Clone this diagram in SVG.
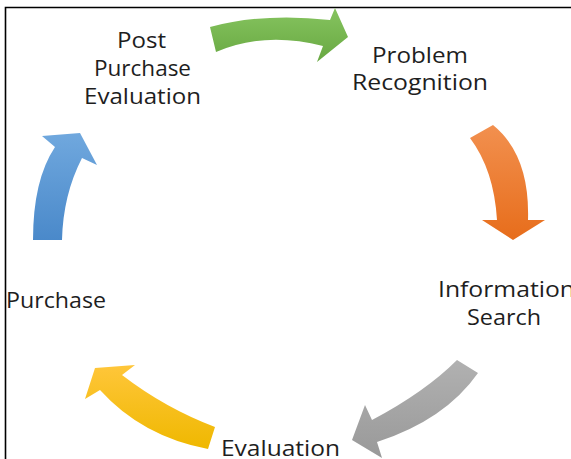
<svg xmlns="http://www.w3.org/2000/svg" width="571" height="459" viewBox="0 0 571 459">
  <defs>
    <style>
      .lbl { font-family: "Open Sans", "Liberation Sans", sans-serif; font-size: 22px; fill: #1e1e1e; }
      .frame { stroke: #000; stroke-width: 1.6; fill: none; }
    </style>
    <linearGradient id="gGreen" x1="0" y1="0" x2="0" y2="1">
      <stop offset="0" stop-color="#86c45f"/>
      <stop offset="1" stop-color="#68a842"/>
    </linearGradient>
    <linearGradient id="gOrange" x1="0" y1="0" x2="0" y2="1">
      <stop offset="0" stop-color="#f2904f"/>
      <stop offset="1" stop-color="#e76d1b"/>
    </linearGradient>
    <linearGradient id="gGray" x1="0" y1="0" x2="0" y2="1">
      <stop offset="0" stop-color="#b1b1b1"/>
      <stop offset="1" stop-color="#999999"/>
    </linearGradient>
    <linearGradient id="gYellow" x1="0" y1="0" x2="0" y2="1">
      <stop offset="0" stop-color="#ffc63a"/>
      <stop offset="1" stop-color="#efb800"/>
    </linearGradient>
    <linearGradient id="gBlue" x1="0" y1="0" x2="0" y2="1">
      <stop offset="0" stop-color="#70a8de"/>
      <stop offset="1" stop-color="#4a89ca"/>
    </linearGradient>
  </defs>

  <rect width="571" height="459" fill="#ffffff"/>

  <!-- frame: top and left edges -->
  <path class="frame" d="M5.5,459 L5.5,7.5 L571,7.5"/>

  <!-- curved cycle arrows -->
  <g id="connectors">
    <path id="arrow-green" fill="url(#gGreen)" d="M210,27 Q264,12.5 330,20 L335,8 L348,37 L317,62 L323,46 Q264.5,31 216,52 Z"/>
    <path id="arrow-orange" fill="url(#gOrange)" d="M470,138 L493,125 Q530,155 528,220 L545,220 L513,240 L482,220 L497,220 Q494,170 470,138 Z"/>
    <path id="arrow-gray" fill="url(#gGray)" d="M457,360 L478,373 Q445,420 377,442 L382,458 L352,440 L365,405 L372,420 Q425,392 457,360 Z"/>
    <path id="arrow-yellow" fill="url(#gYellow)" d="M215,427 Q165,408 122,375 L135,365 L95,368 L85,399 L100,390 Q142,436.5 208,449 Z"/>
    <path id="arrow-blue" fill="url(#gBlue)" d="M33,240 Q33,180 55,147 L42,136 L80,133 L97,165 L82,158 Q63,195 62,240 Z"/>
  </g>

  <g id="node-post-purchase">
    <text class="lbl" x="117" y="48" textLength="49" lengthAdjust="spacingAndGlyphs">Post</text>
    <text class="lbl" x="94" y="76" textLength="97" lengthAdjust="spacingAndGlyphs">Purchase</text>
    <text class="lbl" x="84" y="104" textLength="117" lengthAdjust="spacingAndGlyphs">Evaluation</text>
  </g>

  <g id="node-problem">
    <text class="lbl" x="372" y="63" textLength="96" lengthAdjust="spacingAndGlyphs">Problem</text>
    <text class="lbl" x="352" y="90" textLength="136" lengthAdjust="spacingAndGlyphs">Recognition</text>
  </g>

  <g id="node-information">
    <text class="lbl" x="438" y="297" textLength="137" lengthAdjust="spacingAndGlyphs">Information</text>
    <text class="lbl" x="467" y="325" textLength="74" lengthAdjust="spacingAndGlyphs">Search</text>
  </g>

  <g id="node-evaluation">
    <text class="lbl" x="221" y="456" textLength="119" lengthAdjust="spacingAndGlyphs">Evaluation</text>
  </g>

  <g id="node-purchase">
    <text class="lbl" x="6" y="308" textLength="100" lengthAdjust="spacingAndGlyphs">Purchase</text>
  </g>
</svg>
